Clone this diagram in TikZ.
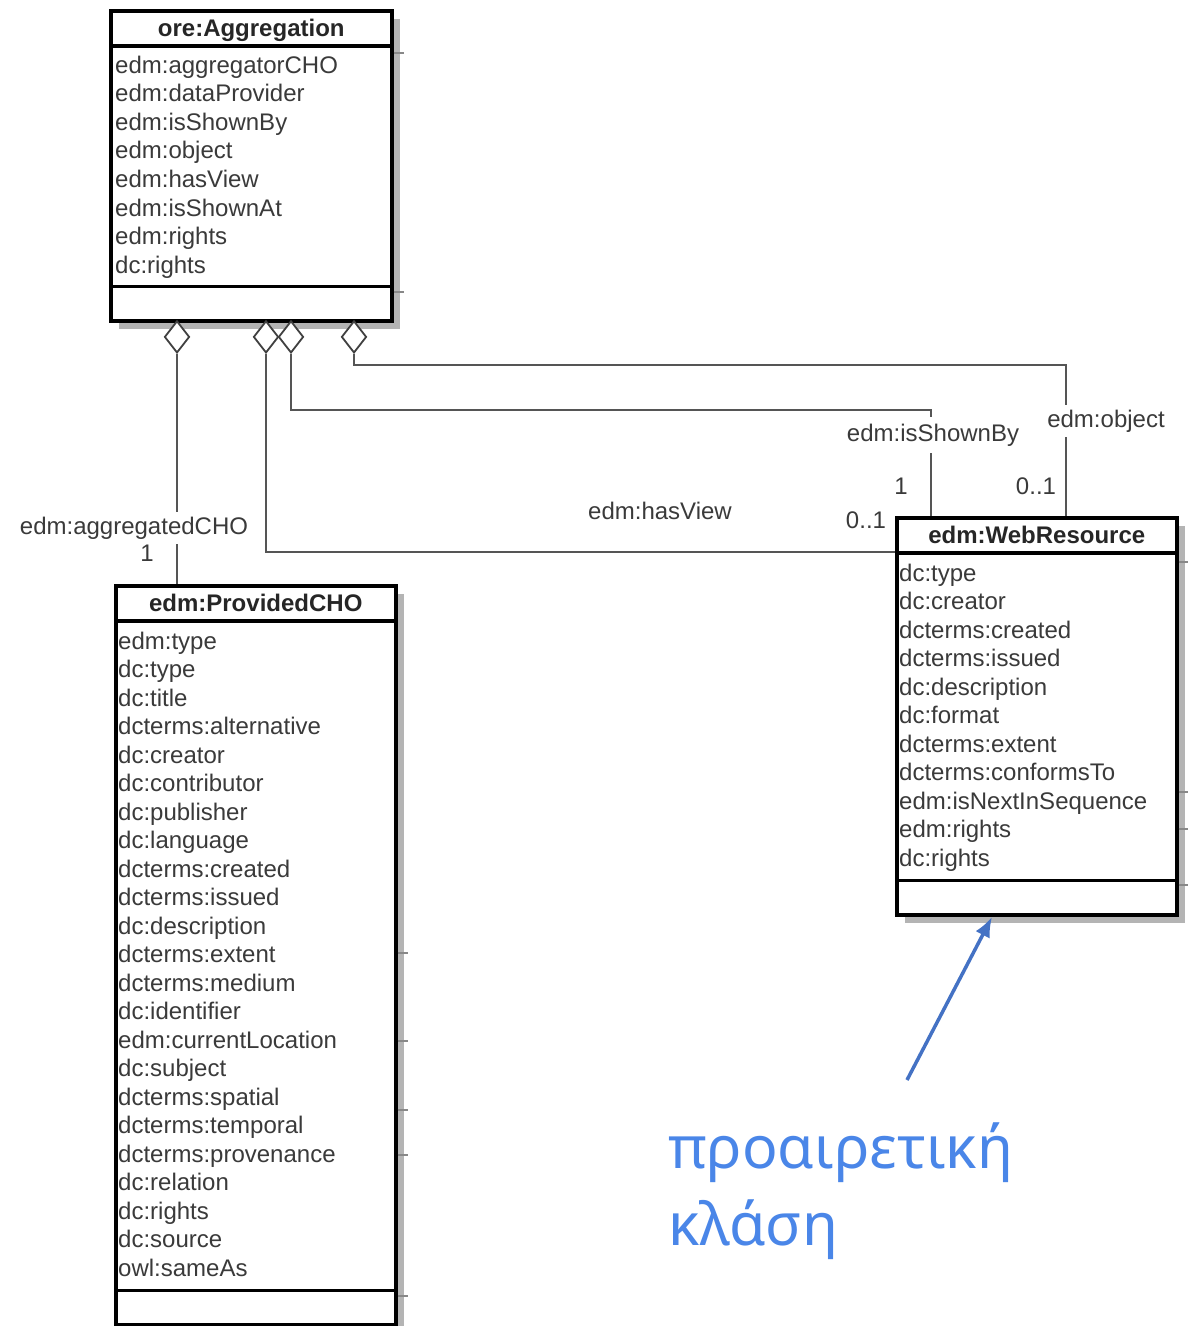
\documentclass[tikz,border=0pt]{standalone}
\usepackage{fontspec}
\setmainfont{Liberation Sans}
\newfontfamily\greekfont{Noto Sans}
\usetikzlibrary{shapes.geometric,arrows.meta,shadows,calc}
\definecolor{txtgray}{HTML}{3A3A3A}
\definecolor{linegray}{HTML}{555555}
\definecolor{shadowgray}{HTML}{B4B4B4}
\definecolor{noteblue}{HTML}{4A86E8}
\definecolor{arrowblue}{HTML}{4472C4}
\newcommand{\attrfont}{\fontsize{24}{28}\selectfont}
\newcommand{\hdrfont}{\fontsize{24}{28}\selectfont\bfseries}
\newcommand{\notefont}{\greekfont\fontsize{59}{70}\selectfont}
\begin{document}
\begin{tikzpicture}[x=1pt,y=-1pt,
  cls/.style={draw=black,line width=3.5pt,fill=white,rectangle,inner sep=0pt,anchor=north west,
    drop shadow={shadow xshift=8pt,shadow yshift=-8pt,fill=shadowgray,opacity=1}},
  div/.style={draw=black,line width=3.5pt},
  hdr/.style={font=\hdrfont,text=black!85,inner sep=0pt,anchor=base},
  attr/.style={font=\attrfont,text=txtgray,inner sep=0pt,anchor=base west},
  lbl/.style={font=\attrfont,text=txtgray,inner sep=2pt},
  gaplbl/.style={lbl,fill=white,inner xsep=3pt,inner ysep=5pt},
  dia/.style={diamond,draw=black!75,fill=white,line width=1.8pt,minimum width=25pt,minimum height=32pt,inner sep=0pt,anchor=north},
  conn/.style={draw=linegray,line width=2pt},
  tick/.style={draw=linegray!70,line width=1.5pt},
  note/.style={font=\notefont,text=noteblue,inner sep=0pt,anchor=base west}]
\useasboundingbox (0,0) rectangle (1188,1326);

% ---------- ore:Aggregation ----------
\node[cls,minimum width=281pt,minimum height=310pt] (agg) at (109,9) {};
\draw[div] ([yshift=-37pt]agg.north west) -- ([yshift=-37pt]agg.north east);
\draw[div] ([yshift=36pt]agg.south west) -- ([yshift=36pt]agg.south east);
\node[hdr] (agg-h) at ([yshift=-27pt]agg.north) {ore:Aggregation};
\foreach \t [count=\i from 0] in {edm:aggregatorCHO,edm:dataProvider,edm:isShownBy,edm:object,edm:hasView,edm:isShownAt,edm:rights,dc:rights}
  \node[attr] (agg-a\i) at (115,{73+28.6*\i}) {\t};

% ---------- edm:ProvidedCHO ----------
\node[cls,minimum width=280pt,minimum height=739pt] (pcho) at (114,584) {};
\draw[div] ([yshift=-37pt]pcho.north west) -- ([yshift=-37pt]pcho.north east);
\draw[div] ([yshift=36pt]pcho.south west) -- ([yshift=36pt]pcho.south east);
\node[hdr] (pcho-h) at ([yshift=-27pt]pcho.north) {edm:ProvidedCHO};
\foreach \t [count=\i from 0] in {edm:type,dc:type,dc:title,dcterms:alternative,dc:creator,dc:contributor,dc:publisher,dc:language,dcterms:created,dcterms:issued,dc:description,dcterms:extent,dcterms:medium,dc:identifier,edm:currentLocation,dc:subject,dcterms:spatial,dcterms:temporal,dcterms:provenance,dc:relation,dc:rights,dc:source,owl:sameAs}
  \node[attr] (pcho-a\i) at (118,{649+28.5*\i}) {\t};

% ---------- edm:WebResource ----------
\node[cls,minimum width=280pt,minimum height=397pt] (wr) at (895,516) {};
\draw[div] ([yshift=-37pt]wr.north west) -- ([yshift=-37pt]wr.north east);
\draw[div] ([yshift=36pt]wr.south west) -- ([yshift=36pt]wr.south east);
\node[hdr] (wr-h) at ([yshift=-27.5pt]wr.north) {edm:WebResource};
\foreach \t [count=\i from 0] in {dc:type,dc:creator,dcterms:created,dcterms:issued,dc:description,dc:format,dcterms:extent,dcterms:conformsTo,edm:isNextInSequence,edm:rights,dc:rights}
  \node[attr] (wr-a\i) at (899,{581+28.5*\i}) {\t};

% ---------- stray ticks at the right of the boxes ----------
\foreach \o in {44,283}
  \draw[tick] ($(agg.north east)+(0,\o)$) -- ++(10,0);
\foreach \o in {369,457,526,571,712}
  \draw[tick] ($(pcho.north east)+(0,\o)$) -- ++(10,0);
\foreach \o in {46,276,313,369}
  \draw[tick] ($(wr.north east)+(0,\o)$) -- ++(9,0);

% ---------- aggregation diamonds ----------
\node[dia] (d1) at (177,320) {};
\node[dia] (d2) at (266,320) {};
\node[dia] (d3) at (291,320) {};
\node[dia] (d4) at (354,320) {};

% ---------- connectors ----------
\draw[conn] (d1.south) -- (d1.south |- pcho.north);
\node[gaplbl] (l-cho) at (134,528) {edm:aggregatedCHO};
\node[lbl] (m-cho) at (147,553) {1};

\draw[conn] (d2.south) |- ([yshift=-36pt]wr.north west);
\node[lbl] (l-view) at (660,511) {edm:hasView};
\node[lbl] (m-view) at (866,520) {0..1};

\draw[conn] (d3.south) -- ++(0,56) -| ([xshift=36pt]wr.north west);
\node[gaplbl,inner ysep=7pt] (l-by) at (933,435) {edm:isShownBy};
\node[lbl] (m-by) at (901,486) {1};

\draw[conn] (d4.south) -- ++(0,11) -| ([xshift=171pt]wr.north west);
\node[gaplbl] (l-obj) at (1106,421) {edm:object};
\node[lbl] (m-obj) at (1036,486) {0..1};

% ---------- note ----------
\coordinate (tail) at (907,1080);
\coordinate (tip) at (992,917);
\draw[arrowblue,line width=3.5pt,-{Latex[length=20pt,width=16pt]}] (tail) -- (tip);
\node[note] (n1) at (668,1168) {προαιρετική};
\node[note] (n2) at (668,1245) {κλάση};
\end{tikzpicture}
\end{document}
